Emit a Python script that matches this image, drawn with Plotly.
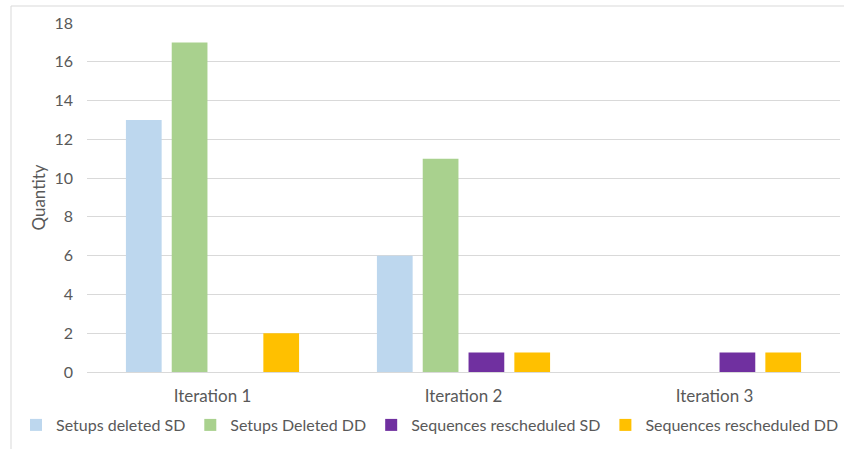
import plotly.graph_objects as go

categories = ["Iteration 1", "Iteration 2", "Iteration 3"]
setups_deleted_sd = [13, 6, None]
setups_deleted_dd = [17, 11, None]
sequences_rescheduled_sd = [None, 1, 1]
sequences_rescheduled_dd = [2, 1, 1]
y_ticks = [0, 2, 4, 6, 8, 10, 12, 14, 16, 18]

series = [
    ("Setups deleted SD", setups_deleted_sd, "#BDD7EE"),
    ("Setups Deleted DD", setups_deleted_dd, "#A9D18E"),
    ("Sequences rescheduled SD", sequences_rescheduled_sd, "#7030A0"),
    ("Sequences rescheduled DD", sequences_rescheduled_dd, "#FFC000"),
]

font_family = "Lato, 'Open Sans', sans-serif"
text_color = "#595959"

fig = go.Figure()
for name, vals, color in series:
    fig.add_trace(go.Bar(
        name=name, x=categories, y=vals,
        marker=dict(color=color, line=dict(width=0)),
    ))

W, H = 844, 449
ml, mr, mt, mb = 87, 4, 23, 77
pw, ph = W - ml - mr, H - mt - mb

fig.update_layout(
    width=W, height=H,
    margin=dict(l=ml, r=mr, t=mt, b=mb),
    paper_bgcolor="white", plot_bgcolor="white",
    barmode="group", bargap=0.27, bargroupgap=0.22,
    font=dict(family=font_family, color=text_color, size=16),
    showlegend=True,
    legend=dict(
        orientation="h", x=(44 - ml) / pw, xanchor="left",
        y=-(408 - (mt + ph)) / ph, yanchor="top",
        font=dict(size=16, color=text_color), itemwidth=30,
        tracegroupgap=0, itemsizing="constant",
    ),
    xaxis=dict(
        showgrid=False, showline=False, ticks="",
        tickfont=dict(size=17, color=text_color),
        ticklabelstandoff=12,
    ),
    yaxis=dict(
        range=[0, 18], tickvals=y_ticks, showgrid=True,
        gridcolor="#D9D9D9", gridwidth=1, zeroline=True,
        zerolinecolor="#D9D9D9", zerolinewidth=1, showline=False,
        ticks="", tickfont=dict(size=16, color=text_color),
        ticklabelstandoff=13,
        title=dict(text="Quantity", font=dict(size=17, color=text_color), standoff=4),
    ),
    shapes=[
        # chart frame: top and left edges
        dict(type="line", xref="paper", yref="paper",
             x0=(11 - ml) / pw, x1=(W - ml) / pw,
             y0=1 + (mt - 6) / ph, y1=1 + (mt - 6) / ph,
             line=dict(color="#D9D9D9", width=1)),
        dict(type="line", xref="paper", yref="paper",
             x0=(11 - ml) / pw, x1=(11 - ml) / pw,
             y0=1 + (mt - 6) / ph, y1=-(H - mt - ph) / ph,
             line=dict(color="#D9D9D9", width=1)),
    ],
)

fig.write_html("out.html")
